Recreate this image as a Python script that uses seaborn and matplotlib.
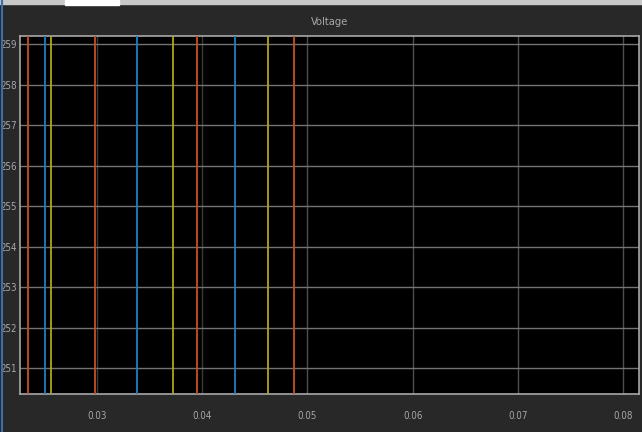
import pandas as pd
import seaborn as sns
import matplotlib.pyplot as plt
from matplotlib.patches import Rectangle
from matplotlib.lines import Line2D

# crossing times (s)
phase_a_times = [0.02347, 0.02978, 0.03948, 0.04873]
phase_b_times = [0.02506, 0.03383, 0.04309]
phase_c_times = [0.02558, 0.03725, 0.04628]
voltage_span = [250.0, 260.0]

x_ticks = [0.03, 0.04, 0.05, 0.06, 0.07, 0.08]
x_labels = ['0.03', '0.04', '0.05', '0.06', '0.07', '0.08']
y_ticks = [251, 252, 253, 254, 255, 256, 257, 258, 259]

# build a long table: each crossing is a steep near-vertical segment
rows = []
for name, times in [('A', phase_a_times), ('B', phase_b_times), ('C', phase_c_times)]:
    for i, t in enumerate(times):
        for v in voltage_span:
            rows.append({'time': t, 'voltage': v, 'phase': name, 'crossing': f'{name}{i}'})
df = pd.DataFrame(rows)

sns.set_style('dark')
plt.rcParams['font.family'] = ['DejaVu Sans']

fig = plt.figure(figsize=(6.42, 4.32), dpi=100, facecolor='#282828')
ax = fig.add_axes([20 / 642, 1 - 394 / 432, 619 / 642, 358 / 432])
ax.set_facecolor('black')

# grid first so lines sit on top
for t in x_ticks:
    ax.axvline(t, color='#3a3a3a' if t < 0.05 else '#4e4e4e', lw=1, zorder=1)
for v in y_ticks:
    ax.axhline(v, color='#747474', lw=1, zorder=1)

sns.lineplot(data=df, x='time', y='voltage', hue='phase', units='crossing',
             estimator=None, sort=False, legend=False, linewidth=1.3,
             palette={'A': '#C8501E', 'B': '#1A80C8', 'C': '#B0A818'}, ax=ax, zorder=3)

ax.set_xlim(0.02268, 0.08152)
ax.set_ylim(250.36, 259.2)
ax.set_xticks(x_ticks)
ax.set_xticklabels(x_labels)
ax.set_yticks(y_ticks)
ax.set_xlabel('')
ax.set_ylabel('')
ax.tick_params(axis='both', direction='in', colors='#a8a8a8', labelsize=7,
               length=5, width=1)
ax.tick_params(axis='y', colors='#d0d0d0', labelcolor='#a8a8a8', pad=2)
ax.tick_params(axis='x', pad=12, length=0)
for lab in ax.get_xticklabels() + ax.get_yticklabels():
    lab.set_fontstretch('condensed')
for s in ax.spines.values():
    s.set_visible(True)
    s.set_color('#a8a8a8')
    s.set_linewidth(1.2)
ax.grid(False)

ax.set_title('Voltage', color='#a8a8a8', fontsize=8, pad=8, fontstretch='condensed')

# window chrome
fig.add_artist(Rectangle((0, 1 - 4 / 432), 1, 4 / 432, transform=fig.transFigure,
                         color='#c8c8c8', zorder=0))
fig.add_artist(Rectangle((65 / 642, 1 - 5 / 432), 54 / 642, 5 / 432, transform=fig.transFigure,
                         color='#ffffff', zorder=0))
fig.add_artist(Line2D([2 / 642, 2 / 642], [0, 1], transform=fig.transFigure,
                      color='#3c6ea8', lw=1.5))

fig.savefig('out.png', dpi=100, facecolor=fig.get_facecolor())
